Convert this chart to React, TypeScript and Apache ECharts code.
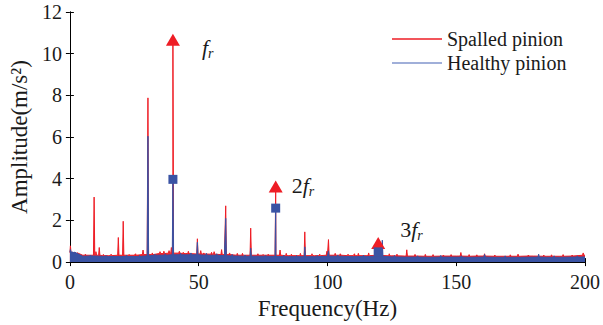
import React, { useEffect, useRef } from "react";
import * as echarts from "echarts";

// ---- data ----
const xTicks = [0, 50, 100, 150, 200];
const yTicks = [0, 2, 4, 6, 8, 10, 12];

const floorFreqs = [0, 5, 10, 15, 20, 25, 30, 35, 40, 45, 50, 55, 60, 65, 70, 75, 80, 85, 90, 95, 100,
  105, 110, 115, 120, 125, 130, 135, 140, 145, 150, 155, 160, 165, 170, 175, 180, 185, 190, 195, 200];
const spalledFloor = [0.45, 0.33, 0.33, 0.31, 0.33, 0.33, 0.36, 0.41, 0.43, 0.41, 0.39, 0.38, 0.36, 0.33, 0.33, 0.33,
  0.33, 0.31, 0.31, 0.31, 0.33, 0.33, 0.31, 0.31, 0.33, 0.3, 0.29, 0.29, 0.28, 0.29, 0.29, 0.28, 0.29, 0.28, 0.28,
  0.28, 0.29, 0.28, 0.28, 0.29, 0.33];
const healthyFloor = [0.48, 0.28, 0.29, 0.27, 0.27, 0.27, 0.3, 0.33, 0.35, 0.35, 0.35, 0.33, 0.31, 0.29, 0.28, 0.28,
  0.27, 0.26, 0.26, 0.26, 0.28, 0.28, 0.26, 0.27, 0.28, 0.25, 0.24, 0.24, 0.23, 0.24, 0.24, 0.23, 0.24, 0.23, 0.23,
  0.23, 0.24, 0.23, 0.23, 0.24, 0.25];

const spalledSpikes: [number, number][] = [
  [0.2, 0.78], [2.5, 0.4], [6, 0.38], [9.4, 3.12], [10.1, 0.5], [11.4, 0.7], [13, 0.37], [16, 0.38],
  [18.8, 1.18], [20.7, 1.96], [23, 0.37], [25.5, 0.4], [28.4, 0.58], [30.3, 7.88], [32, 0.44], [35, 0.5],
  [36.5, 0.52], [38.5, 0.55], [39.4, 0.7], [40, 10.5], [42.5, 0.52], [44, 0.47], [46, 0.52], [49.5, 1.12],
  [50.8, 0.55], [52, 0.44], [55, 0.47], [56, 0.5], [58.9, 0.6], [60.5, 2.7], [62, 0.44], [65, 0.42], [67, 0.42],
  [70.2, 1.63], [73, 0.4], [75, 0.37], [77, 0.38], [79.9, 3.4], [81.6, 0.58], [84, 0.42], [86, 0.38],
  [89.5, 0.42], [91.2, 1.45], [94, 0.4], [97, 0.38], [99.8, 0.52], [100.4, 1.08], [103, 0.42], [105, 0.4],
  [108, 0.38], [110.5, 0.4], [112, 0.42], [116, 0.44], [119.7, 0.9], [124, 0.4], [127, 0.38], [130.8, 0.59],
  [134, 0.37], [138, 0.37], [141, 0.36], [145, 0.34], [148, 0.36], [151.8, 0.46], [155, 0.36], [158, 0.35],
  [161, 0.4], [165, 0.34], [171, 0.35], [174, 0.38], [178, 0.34], [184, 0.34], [187, 0.35], [191.5, 0.36],
  [195, 0.34], [199.3, 0.44],
];
const healthySpikes: [number, number][] = [
  [0.2, 0.6], [1.5, 0.42], [8, 0.34], [14, 0.32], [22, 0.34], [27, 0.32], [30.3, 6.04], [33, 0.38], [37, 0.4],
  [40, 3.97], [43, 0.42], [47, 0.44], [49.5, 0.95], [53, 0.42], [57, 0.4], [60.5, 2.1], [63, 0.37], [68, 0.34],
  [70.2, 0.67], [76, 0.32], [79.9, 2.59], [83, 0.34], [88, 0.32], [91.2, 0.73], [96, 0.32], [100.4, 0.54],
  [104, 0.34], [114, 0.34], [119.7, 0.49], [121.3, 1.05], [126, 0.32], [135, 0.3], [144, 0.32], [152, 0.3],
  [161, 0.37], [169, 0.3], [182, 0.38], [188, 0.3], [197, 0.3],
];

const harmonicFreqs = [40, 79.9, 119.7];
const spalledMarkers = [10.67, 3.63, 0.92];
const healthyMarkers = [3.97, 2.59, 0.49];
const harmonicOrders = ["", "2", "3"];

const seriesNames = ["Spalled pinion", "Healthy pinion"];

// ---- styles ----
const RED = "#ee1d25";
const BLUE = "#3a53a4";
const FONT = "'Liberation Serif', 'Times New Roman', serif";
const TEXT = "#1a1a1a";
const labelOffsets: [number, number][] = [[22, 8], [9, -1], [15, -13]];
const SPIKE_HALF = 0.25;

function buildSpectrum(floor: number[], spikes: [number, number][]) {
  const pts: [number, number][] = floorFreqs.map((f, i) => [f, floor[i]]);
  const baseAt = (f: number) => {
    let best = 0;
    floorFreqs.forEach((ff, i) => {
      if (Math.abs(ff - f) < Math.abs(floorFreqs[best] - f)) best = i;
    });
    return floor[best];
  };
  spikes.forEach(([f, a]) => {
    const b = baseAt(f);
    pts.push([Math.max(0, f - SPIKE_HALF), b], [f, a], [Math.min(200, f + SPIKE_HALF), b]);
  });
  pts.sort((p, q) => p[0] - q[0]);
  return pts;
}

export default function App() {
  const ref = useRef<HTMLDivElement>(null);
  useEffect(() => {
    if (!ref.current) return;
    const chart = echarts.init(ref.current, null, { renderer: "svg" });
    const axisLine = { show: true, lineStyle: { color: "#000", width: 1 } };
    const tick = { show: true, inside: true, length: 4, lineStyle: { color: "#000", width: 1 } };
    const labelStyle = { color: TEXT, fontFamily: FONT, fontSize: 20 };
    chart.setOption({
      animation: false,
      backgroundColor: "#fff",
      grid: { left: 65, right: 15, top: 12, bottom: 62, containLabel: false },
      legend: {
        orient: "vertical",
        left: 387,
        top: 24,
        itemWidth: 50,
        itemHeight: 1.5,
        itemGap: 4,
        icon: "rect",
        textStyle: { color: TEXT, fontFamily: FONT, fontSize: 20, lineHeight: 20 },
        data: [
          { name: seriesNames[0], itemStyle: { color: RED } },
          { name: seriesNames[1], itemStyle: { color: "#8194cc" } },
        ],
      },
      xAxis: [
        {
          type: "value", min: xTicks[0], max: xTicks[xTicks.length - 1], interval: 50,
          name: "Frequency(Hz)", nameLocation: "middle", nameGap: 32,
          nameTextStyle: { color: TEXT, fontFamily: FONT, fontSize: 23 },
          axisLine, axisTick: tick, splitLine: { show: false },
          axisLabel: { ...labelStyle, margin: 10 },
        },
        {
          type: "value", position: "top", min: xTicks[0], max: xTicks[xTicks.length - 1], interval: 50,
          axisLine, axisTick: tick, splitLine: { show: false }, axisLabel: { show: false },
        },
      ],
      yAxis: [
        {
          type: "value", min: yTicks[0], max: yTicks[yTicks.length - 1], interval: 2,
          name: "Amplitude(m/s²)", nameLocation: "middle", nameGap: 31,
          nameTextStyle: { color: TEXT, fontFamily: FONT, fontSize: 23 },
          axisLine, axisTick: tick, splitLine: { show: false },
          axisLabel: { ...labelStyle, margin: 8 },
        },
        {
          type: "value", position: "right", min: yTicks[0], max: yTicks[yTicks.length - 1], interval: 2,
          axisLine, axisTick: tick, splitLine: { show: false }, axisLabel: { show: false },
        },
      ],
      series: [
        {
          name: seriesNames[0], type: "line", showSymbol: false, symbol: "none",
          data: buildSpectrum(spalledFloor, spalledSpikes),
          lineStyle: { color: RED, width: 1 }, itemStyle: { color: RED },
          areaStyle: { color: RED, opacity: 1 }, z: 2,
        },
        {
          name: seriesNames[1], type: "line", showSymbol: false, symbol: "none",
          data: buildSpectrum(healthyFloor, healthySpikes),
          lineStyle: { color: BLUE, width: 1 }, itemStyle: { color: BLUE },
          areaStyle: { color: BLUE, opacity: 1 }, z: 3,
        },
        {
          name: "spalled-harmonics", type: "scatter", symbol: "triangle", symbolSize: [14, 12],
          itemStyle: { color: RED, opacity: 1 }, z: 5,
          data: harmonicFreqs.map((f, i) => ({
            value: [f, spalledMarkers[i]],
            label: {
              show: true, position: "right", distance: 0, offset: labelOffsets[i],
              formatter: `{n|${harmonicOrders[i]}}{f|f}{s|r}`,
              rich: {
                n: { fontFamily: FONT, fontSize: 22, color: TEXT, lineHeight: 26 },
                f: { fontFamily: FONT, fontSize: 22, fontStyle: "italic", color: TEXT, lineHeight: 26 },
                s: { fontFamily: FONT, fontSize: 14, fontStyle: "italic", color: TEXT, lineHeight: 14, verticalAlign: "bottom" },
              },
            },
          })),
        },
        {
          name: "healthy-harmonics", type: "scatter", symbol: "rect", symbolSize: 9,
          itemStyle: { color: BLUE, opacity: 1 }, z: 6,
          data: harmonicFreqs.map((f, i) => [f, healthyMarkers[i]]),
        },
      ],
    });
    return () => chart.dispose();
  }, []);
  return <div ref={ref} style={{ position: "fixed", left: 0, top: 0, width: 603, height: 325 }} />;
}
